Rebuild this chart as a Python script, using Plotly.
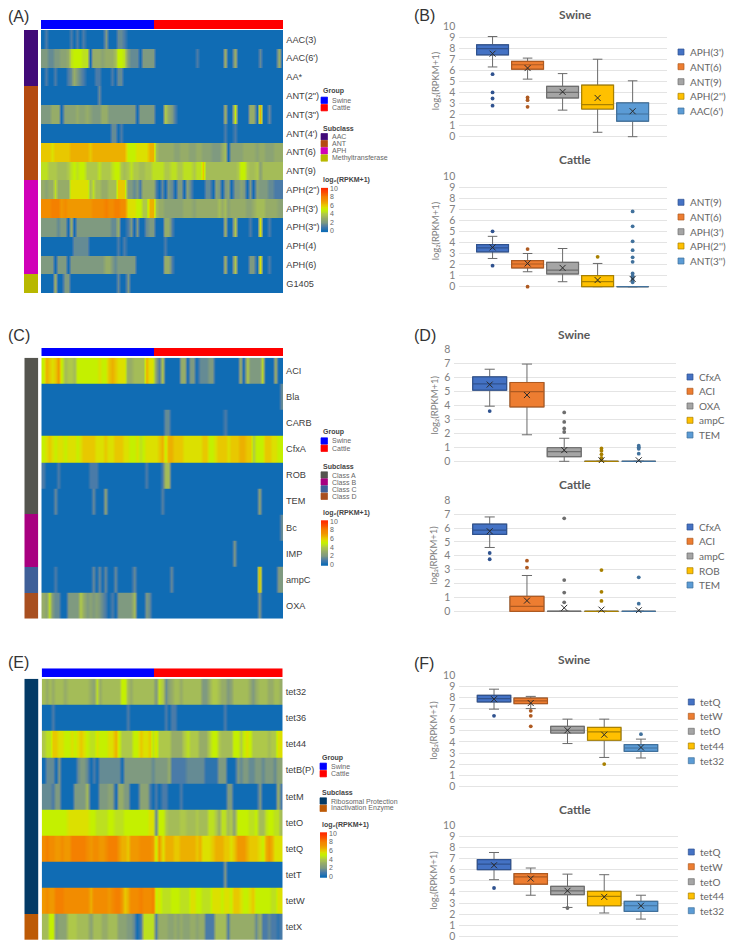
import plotly.graph_objects as go

W, H = 732, 947

# ---------- panel A heatmap ----------
a_labels = ["AAC(3)", "AAC(6')", "AA*", 'ANT(2")', 'ANT(3")', "ANT(4')", "ANT(6)", "ANT(9)", 'APH(2")', "APH(3')", 'APH(3")', "APH(4)", "APH(6)", "G1405"]
a_subclass = [0, 0, 0, 1, 1, 1, 1, 1, 2, 2, 2, 2, 2, 3]
a_rows = [
 [0,1,0,0,0,0,0,0,0,1, 0,1,0,1,0,0,0,0,0,0, 2,0,0,0,1.5,1.5,1,0,0,0, 0,0,0,0,0,0,
  0,0,0,0,0,0,0,0,0,0, 0,0,0,0,0,0,0,0,0,0, 0,0,0,0,0,0,0,0,0,0, 0,0,0,0,0,0,0,0,0,0, 0],
 [2,2,1.5,1.5,2,2,2.5,2.5,3,4.5, 5,5,5,4.5,4.5,0,3,3,3,2.5, 3,3,3,3.5,5,5,4.5,2,1.5,1.5, 1.5,0,2,2,2,2,
  0,0,0,0,0,0,0,0,0,0, 0,0,0,1,0,0,0,0,0,0, 0,0,3,0,0,3,0,0,0,0, 0,0,0,1.5,0,0,0,0,0,3, 0],
 [0,1,0,0,1,0,0,0,1,1.5, 3,2,1.5,1,0,0,0,1,1,0, 0,0,1,0,1.5,1.5,0,0,0,0, 0,0,0,0,0,0,
  0,0,0,0,0,0,0,0,0,0, 0,0,0,0,0,0,0,0,0,0, 0,0,0,0,0,0,0,0,0,0, 0,0,0,0,0,0,0,0,0,0, 0],
 [0,0,0,0,0,0,0,0,0,0, 0,0,0,0,0,0,0,0,1.5,0, 0,0,0,0,0,0,0,0,0,0, 0,0,0,0,0,0,
  0,0,0,0,0,0,0,0,0,0, 0,0,0,0,0,0,0,0,0,0, 0,0,0,0,0,0,0,0,0,0, 0,0,0,0,0,0,0,0,0,0, 0],
 [2,2,2,3,3,3,0,2.5,2.5,2.5, 2.5,3,2.5,2.5,3,2.5,2,2,2,3, 3,2,2,2,2,2,2,2,2,2, 0,2,2,2,2,2,
  0,0,0,4,3,2,1,0,0,0, 0,0,0,0,0,0,0,0,0,0, 0,0,3,0,0,5,0,0,0,0, 3,3,0,6.5,0,0,1.5,0,0,0, 0],
 [0,0,0,0,0,0,0,0,0,0, 0,0,0,0,0,0,0,0,0,0, 0,0,1.5,1.5,0,1,0,0,0,0, 0,0,0,0,0,0,
  0,0,0,0,0,0,0,0,0,0, 0,0,0,0,0,0,0,0,0,0, 0,0,1,0,0,1,0,0,0,0, 0,0,0,0,0,0,0,0,0,0, 0],
 [6,6,6,5.5,6,6,6,6,6,6.5, 6.5,6.5,6.5,6.5,6.5,6,6.5,6.5,6.5,6.5, 6.5,6.5,6.5,6.5,6.5,6.5,6.5,5,5,5, 5.5,5.5,5.5,5.5,6.5,6.5,
  3.5,3,3,3,3,3,2.5,2.5,3,3, 3,2.5,2.5,3,3,2.5,2.5,2.5,2,2, 2,3,3.5,0,2.5,2.5,2.5,2.5,3,3, 3,3,2.5,3,3,2.5,2.5,2.5,3,3, 3],
 [4.5,4.5,4,4,4,3.5,3.5,3.5,4,4.5, 5,4.5,5,5,4,4,4,4,4.5,4, 4,4,4.5,5,5,4,3.5,4,4.5,4, 4,3.5,3.5,4,4,4.5,
  4.5,4.5,4.5,4,4,4.5,4.5,4,4,4.5, 4.5,4.5,4,4.5,4.5,6,3.5,3.5,3.5,3.5, 3.5,3.5,3.5,3.5,3.5,3.5,4,5,5,4, 3.5,3.5,4,2.5,3.5,3.5,3.5,3.5,3.5,3.5, 3.5],
 [3,2.5,3,3,4.5,3,3,3,3,5.5, 5.5,5.5,5.5,5.5,5.5,3.5,4.5,3.5,3.5,3, 3,3.5,3.5,3.5,6,6,6,2,2,1.5, 2,1,3,3,3,3,
  1,0,1.5,0,2,1.5,0,2,2,0, 2.5,1.5,0,0,0,0,1.5,1.5,0,2.5, 2,0,2,2.5,0,2,2,2.5,2,0, 2,0,2.5,2,2,2,1.5,1.5,1,1, 1],
 [7.5,7.5,7.5,8,8,8,7,7.5,7,7, 7,7,7,7,7,7,7.5,7.5,7.5,7.5, 8,7.5,7.5,8,8,7.5,7.5,5.5,5.5,5.5, 5,5,4,4,6.5,6.5,
  3.5,3,3,2.5,2.5,2.5,2.5,2.5,2.5,3, 3,3,2.5,3,3,3,3,3,3,3, 3.5,3,3.5,2.5,3,3,3,3,3,2.5, 2.5,3,3.5,3.5,3.5,3,3,3,3,2.5, 2.5],
 [2,2,2,2,2,1.5,2,2,0,3, 0,2,2,2,2,2,2,2,2,2, 2,2,1.5,1.5,3,0,0,1,2,0, 2,0,0,1.5,2,2,
  0,0,0,3,3,1,0,0,0,0, 0,0,0,0,0,0,0,0,0,0, 0,0,3,0,0,4,0,0,0,0, 1,0,0,5.5,0,0,1,0,0,0, 0],
 [0,0,0,0,0,0,0,0,0,0, 1.5,1.5,1.5,1.5,1.5,0,0,0,0,0, 0,0,0,0,1,0,1,0,0,0, 0,0,0,0,0,0,
  0,0,0,1,0,0,0,0,0,0, 0,0,0,0,0,0,0,0,0,0, 0,0,0,0,0,0,0,0,0,0, 0,0,0,0,0,0,0,0,0,0, 0],
 [2,2,2,2,0,2,2,2,0,2, 2,2,2,2,2,2,2,2,2,2, 3,3,2,1.5,2,2,2,2,2,2, 0,0,0,0,0,0,
  0,0,0,3,3,1,0,0,0,0, 0,0,0,0,0,0,0,0,0,0, 0,0,3,0,0,4,0,0,0,0, 2,2,0,5.5,0,0,1,0,0,0, 0],
 [0,0,0,0,3,0,0,2,2,0, 0,0,0,0,0,0,0,0,0,0, 0,0,0,0,1.5,0,0,2,0,0, 0,0,0,0,0,0,
  0,0,0,0,0,0,0,0,0,0, 0,0,0,0,0,0,0,0,0,0, 0,0,0,0,0,0,0,0,0,0, 0,0,0,0,0,0,0,0,0,0, 0],
]

# ---------- panel C heatmap ----------
c_labels = ["ACI", "Bla", "CARB", "CfxA", "ROB", "TEM", "Bc", "IMP", "ampC", "OXA"]
c_subclass = [0, 0, 0, 0, 0, 0, 1, 1, 2, 3]
c_rows = [
 [5,6.5,6,5.5,6,7,5,3.5,4,4, 3.5,5,5,5,5,5,5,5,5.5,5, 5,6,6.5,6,5.5,5.5,5.5,3,3,3.5, 3.5,3.5,3.5,6.5,5.5,5.5,
  2,1,4,0,0,0,0,0,3,3, 0,2,2,0,1.5,1.5,1.5,2,2,0, 0,0,0,0,0,0,0,3,0,4, 2,2,2,2,4.5,0,0,0,3,0, 0],
 [0,0,0,0,0,0,0,0,0,0, 0,0,0,0,0,0,0,0,0,0, 0,0,0,0,0,0,0,0,0,0, 0,0,0,0,0,0,
  0,0,0,0,0,0,0,0,0,0, 0,0,0,0,0,0,0,0,0,0, 0,0,0,0,0,0,0,0,0,0, 0,0,0,0,0,0,0,0,0,0, 1.5],
 [0,0,0,0,0,0,0,0,0,0, 0,0,0,0,0,0,0,0,0,0, 0,0,0,0,0,0,0,0,0,0, 0,0,0,0,0,0,
  0,0,0,1.5,1.5,0,0,0,0,0, 0,0,0,0,0,0,0,0,0,0, 0,0,1,0,0,0,0,0,0,0, 0,0,0,0,0,0,0,0,0,0, 0],
 [5,5.5,6,5.5,5,5.5,5.5,5,5.5,5.5, 5.5,5,5.5,6,6,6,6,5.5,5.5,5.5, 6,5.5,5.5,6,6,6,5.5,5.5,5,5, 5.5,4.5,5,5.5,5.5,5.5,
  5.5,6,6.5,5,6.5,6.5,6,6,6,5.5, 5.5,5.5,5.5,5.5,5.5,6,6,5,5,5.5, 6,6,6,5.5,6,6,6,6.5,6.5,6, 6,4,5,5,5,6,6,5.5,5.5,5, 5],
 [1,0,0,0,0,1,0,0,0,0, 0,0,0,0,0,1,1,1,0,0, 0,0,0,0,0,0,0,0,0,0, 0,0,0,1,0,0,
  0,0,1,3.5,3.5,0,0,0,0,0, 0,0,0,0,0,0,0,0,0,0, 0,0,0,0,0,0,0,0,0,0, 0,0,0,0,0,0,0,0,0,0, 0],
 [0,0,0,0,1.5,0,0,0,0,0, 0,0,0,0,0,0,1.5,0,0,0, 2.5,0,0,0,0,0,0,0,0,0, 0,0,0,0,0,0,
  0,0,1.2,0,0,0,0,0,0,0, 0,0,0,0,0,0,0,0,0,0, 0,0,0,0,0,0,0,0,0,0, 0,0,0,2.5,0,0,0,0,0,0, 0],
 [0,0,0,0,0,0,0,0,0,0, 0,0,0,0,0,0,0,0,0,0, 0,0,0,0,0,0,0,0,0,0, 0,0,0,0,0,0,
  0,0,0,0,0,0,0,0,0,0, 0,0,0,0,0,0,0,0,0,0, 0,0,0,0,0,0,0,0,0,0, 0,0,0,0,0,0,0,0,0,0, 1.5],
 [0,0,0,0,0,0,0,0,0,0, 0,0,0,0,0,0,0,0,0,0, 0,0,0,0,0,0,0,0,0,0, 0,0,0,0,0,0,
  0,0,0,0,0,0,0,0,0,0, 0,0,0,0,0,0,0,0,0,0, 0,0,0,0,0,2,0,0,0,0, 0,0,0,0,0,0,0,0,0,0, 0],
 [0,0,0,0,1,0,0,0,0,0, 0,0,0,0,0,0,1.5,0,1.5,0, 1.5,0,0,1.5,0,0,0,0,0,1.5, 0,0,0,0,0,0,
  0,0,0,0,0,1.5,0,0,0,0, 0,0,0,0,0,0,0,0,0,0, 0,0,0,0,0,0,0,0,0,0, 0,0,0,6.5,0,0,0,0,0,2, 2],
 [3,2.5,4.5,2,1.5,1.5,0,0,2,2, 2,2,4,3,2,2.5,2,2.5,2,1.5, 1,0,1,0,2,2,2,2,2,3.5, 0,0,0,2,1.5,0,
  0,0,0,0,0,0,0,0,0,0, 0,0,0,0,0,0,0,0,0,0, 0,0,0,0,0,0,0,0,0,0, 0,0,0,2,0,0,0,0,0,0, 0],
]

# ---------- panel E heatmap ----------
e_labels = ["tet32", "tet36", "tet44", "tetB(P)", "tetM", "tetO", "tetQ", "tetT", "tetW", "tetX"]
e_subclass = [0, 0, 0, 0, 0, 0, 0, 0, 0, 1]
e_rows = [
 [3.5,3,3.5,3,3.5,3.5,3.5,3,3.5,3.5, 3.5,3.5,3.5,3.5,3.5,3,2.5,4.5,3,3.5, 3.5,3.5,3.5,3.5,3.5,5,5,3.5,3,3.5, 3.5,3.5,3.5,3.5,3.5,3.5,
  2,4.5,4,1.5,2.5,3,3.5,3.5,3,3.5, 3.5,3.5,3.5,3.5,3.5,2,2,3,4,4, 3.5,3,3,2,2.5,3.5,3.5,3.5,3.5,3.5, 3,2,3,3.5,3.5,3.5,3,3,3.5,3.5, 3],
 [0,0,0,1,0,0,0,0,0,0, 0,0,0,0,0,0,0,0,0,0, 0,0,0,0,0,0,0,1,0,0, 0,0,0,0,0,0,
  0,0,0,1,0,1,1,0,0,0, 0,0,0,0,0,0,0,0,0,0, 0,0,1,0,0,0,0,0,0,0, 0,0,0,0,0,0,0,0,0,0, 0],
 [4,4.5,4.5,6,6,5.5,5.5,5,5,5.5, 5,5.5,6,5.5,5,4.5,4.5,5.5,5,5, 5,5.5,5.5,6.5,5,4,4,4,4,5, 5,6,5.5,5.5,6,4.5,
  5.5,4,4,4,4,3,3,3,3,4, 4.5,4,4,4,3,3,3,4,5,5, 4,3.5,3.5,3.5,3.5,5,5,4,5,5.5, 5,4,4,4,4,4,3.5,4,4,5.5, 5.5],
 [0,1.5,1.5,1.5,0,2,0,0,0,0, 0,1.5,2,2,1.5,0,1,0,1.5,1.5, 1.5,1.5,1.5,1.5,1.5,0,2,2,2,2, 2,2,2,2,2,1.5,
  2,2,2,2,3,1,1,1,1,1, 1.5,1.5,1.5,1.5,1.5,1.5,0.5,0.5,0.5,0.5, 2,2,2,0,0,0,2,1.5,2,2, 1.5,1.5,2,2,1.5,2,2,2,1.5,2.5, 2.5],
 [1.5,1.5,1.5,1,2,2,0,0,0,0, 2,2,2,2,3.5,0,0,0,2,2, 2,2.5,2.5,0,3,3,2,2,0,0, 0,2.5,2.5,2.5,1,0,
  1,0,1,1,0,0,0,0,1,0, 0,0,0,0,0,0,0,0,0,0, 0,0,0,2,2,0,0,0,0,0, 0,0,0,2,0,0,0,0,0,3, 1],
 [5,5,5,5,5,5,5,5,5.5,5.5, 5.5,5.5,5.5,5.5,5.5,5,5,4.5,4.5,4.5, 4.5,5,5,4.5,4.5,4.5,5,5,5,5, 5,5,5,5,5.5,5.5,
  1.5,5,5,4,3.5,3.5,3.5,3.5,4,4, 3.5,3.5,3.5,4,3.5,3.5,3.5,4.5,4.5,4, 3,4.5,4.5,3.5,4,2.5,5,5,5,5, 4.5,4.5,5,3.5,3.5,4.5,5,5,4.5,4.5, 3.5],
 [7.5,8,7.5,7.5,7,7,7.5,7,7,8, 8,8,8,8,7.5,7,7.5,7.5,7,7, 7.5,8,8,8,7,6.5,6.5,6,7,7, 7,7.5,7.5,7.5,7.5,7,
  5,7,5.5,6.5,6.5,6.5,6,6,6.5,6.5, 6.5,6.5,6.5,6,6.5,5.5,5.5,5.5,6,6.5, 6.5,6.5,6,6,5.5,6,7,7,7,6.5, 6,6,6,5.5,5,6.5,7,6.5,5.5,5.5, 5.5],
 [0,0,0,0,0,0,0,0,0,0, 0,0,0,0,0,0,0,0,0,0, 0,0,0,0,0,0,0,0,0,0, 0,0,0,0,0,0,
  0,0,0,0,0,0,0,0,0,0, 0,0,0,0,0,0,0,0,0,0, 0,0,2,0,0,0,0,0,0,0, 0,0,0,0,0,0,0,0,0,0, 0],
 [7,7.5,7,7,8,8,8,7.5,7.5,7.5, 7.5,7.5,7.5,7.5,7.5,6.5,7.5,7.5,7.5,7.5, 7.5,7,7.5,8,8,7,6,6.5,7.5,7.5, 7.5,8,7.5,7.5,7.5,8,
  5,5.5,4.5,4.5,4.5,5,5,5,4.5,4.5, 4.5,5.5,5.5,5,5,4.5,4.5,4.5,5.5,5.5, 5.5,5,5.5,5.5,5,6,6,5.5,5,5, 5.5,6,5,5,5,5,5,4.5,4.5,5.5, 5.5],
 [3.5,3.5,5,5,2,2.5,2.5,2.5,4,4, 4,3.5,3.5,3.5,3.5,2.5,3.5,3.5,3.5,3, 3,3.5,3.5,3.5,2.5,2.5,2.5,2,2,1.5, 0,1,4.5,4.5,4.5,4.5,
  1,3,3,3,2.5,2.5,3,2.5,3,2.5, 2.5,3,3,2.5,3,3,1,1,1,3.5, 3.5,3.5,3.5,1,3,3,3,3,3,3, 3,3,1.5,3,1,1,1.5,1,1,0.5, 1],
]

group_of_column = [0] * 36 + [1] * 41
scale_ticks = [0, 2, 4, 6, 8, 10]

# ---------- box panels: q1, median, q3, lower whisker, upper whisker, mean, outliers ----------
b_s_names = ["APH(3')", "ANT(6)", "ANT(9)", "APH(2'')", "AAC(6')"]
b_s_q1 = [7.4, 6.1, 3.5, 2.5, 1.4]
b_s_med = [7.95, 6.5, 4.0, 2.9, 2.05]
b_s_q3 = [8.3, 6.8, 4.55, 4.65, 3.05]
b_s_lo = [6.3, 5.2, 2.4, 0.4, 0]
b_s_hi = [9.05, 7.1, 5.7, 7.0, 5.05]
b_s_mean = [7.5, 6.2, 4.05, 3.5, 2.3]
b_s_out = [[5.65, 4.0, 3.45, 2.8], [3.55, 3.3, 2.7], [], [], []]

b_c_names = ["ANT(9)", "ANT(6)", "APH(3')", "APH(2'')", "ANT(3'')"]
b_c_q1 = [3.15, 1.7, 1.15, 0, 0]
b_c_med = [3.5, 2.05, 1.5, 0.45, 0]
b_c_q3 = [3.8, 2.35, 2.2, 1.0, 0]
b_c_lo = [2.55, 1.35, 0.45, 0, 0]
b_c_hi = [4.55, 3.0, 3.45, 2.1, 0]
b_c_mean = [3.55, 2.1, 1.7, 0.6, 0.7]
b_c_out = [[5.0, 1.9], [3.4, 0], [], [2.7], [6.8, 5.45, 4.1, 3.3, 2.65, 2.25, 1.2, 0.95, 0.8, 0.6, 0.4]]

d_s_names = ["CfxA", "ACI", "OXA", "ampC", "TEM"]
d_s_q1 = [5.1, 3.9, 0.33, 0, 0]
d_s_med = [5.55, 5.0, 0.7, 0, 0]
d_s_q3 = [6.05, 5.65, 0.97, 0, 0]
d_s_lo = [3.95, 1.9, 0, 0, 0]
d_s_hi = [6.6, 6.97, 1.65, 0, 0]
d_s_mean = [5.5, 4.75, 0.8, 0.07, 0.07]
d_s_out = [[3.6], [], [3.5, 2.82, 2.35, 2.1], [0.92, 0.75, 0.5, 0.25, 0.12], [1.12, 1.0, 0.9, 0.55]]

d_c_names = ["CfxA", "ACI", "ampC", "ROB", "TEM"]
d_c_q1 = [5.55, 0, 0, 0, 0]
d_c_med = [5.85, 0.35, 0, 0, 0]
d_c_q3 = [6.28, 1.08, 0, 0, 0]
d_c_lo = [4.6, 0, 0, 0, 0]
d_c_hi = [6.8, 2.58, 0, 0, 0]
d_c_mean = [5.77, 0.77, 0.25, 0.12, 0.07]
d_c_out = [[4.2, 3.75], [3.65, 3.15], [6.7, 2.25, 1.35, 0.65], [2.97, 1.4, 0.75], [2.45, 0.55]]

f_s_names = ["tetQ", "tetW", "tetO", "tet44", "tet32"]
f_s_q1 = [7.6, 7.45, 4.8, 4.15, 3.15]
f_s_med = [7.9, 7.7, 5.05, 4.9, 3.45]
f_s_q3 = [8.2, 7.95, 5.4, 5.3, 3.75]
f_s_lo = [6.95, 7.0, 3.85, 2.6, 2.55]
f_s_hi = [8.75, 8.1, 6.05, 6.05, 4.25]
f_s_mean = [7.85, 7.5, 5.05, 4.65, 3.5]
f_s_out = [[6.35], [6.8, 6.35, 5.4], [], [2.0], [4.7]]

f_c_names = ["tetQ", "tetW", "tetO", "tet44", "tet32"]
f_c_q1 = [6.0, 4.7, 3.75, 2.75, 2.25]
f_c_med = [6.5, 5.35, 4.1, 3.6, 2.75]
f_c_q3 = [6.9, 5.65, 4.5, 4.05, 3.15]
f_c_lo = [5.1, 3.7, 2.6, 2.1, 1.55]
f_c_hi = [7.55, 6.15, 5.6, 5.55, 3.7]
f_c_mean = [6.4, 5.2, 4.1, 3.55, 2.75]
f_c_out = [[4.35], [], [2.55], [], []]

# ---------- styling ----------
HEAT_SCALE = [[0.0, "#106cb4"], [0.1, "#4a7ba8"], [0.2, "#7f9a80"], [0.3, "#96ac68"], [0.35, "#a4bc58"],
              [0.4, "#aec84a"], [0.45, "#bce020"], [0.5, "#c4f000"], [0.55, "#dce000"], [0.6, "#e8c800"],
              [0.65, "#ecb000"], [0.7, "#f09800"], [0.8, "#f48000"], [0.9, "#fa5000"], [1.0, "#ff2a00"]]
BOX_FILL = ["#4472c4", "#ed7d31", "#a5a5a5", "#ffc000", "#5b9bd5"]
BOX_LINE = ["#2f528f", "#ae5a21", "#6e6e6e", "#a88000", "#41719c"]
WHISKER = "#6a6a6a"
HEAT_FONT = "Liberation Sans"
BOX_FONT = "Lato"
GREY = "#808080"
Y_TITLE = "log\u2082(RPKM+1)"


def X(p):
    return p / W


def Y(p):
    return 1 - p / H


fig = go.Figure()
layout_axes = {}
shapes = []
annots = []
axis_no = [0]


def new_axes(x0, x1, y0, y1, xopts, yopts):
    axis_no[0] += 1
    n = axis_no[0]
    suffix = "" if n == 1 else str(n)
    layout_axes["xaxis" + suffix] = dict(domain=[X(x0), X(x1)], anchor="y" + suffix, **xopts)
    layout_axes["yaxis" + suffix] = dict(domain=[Y(y1), Y(y0)], anchor="x" + suffix, **yopts)
    return "x" + suffix, "y" + suffix


def text(px, py, s, size=7, color="#666666", bold=False, family=HEAT_FONT, xanchor="left", angle=0):
    annots.append(dict(x=X(px), y=Y(py), xref="paper", yref="paper", text=f"<b>{s}</b>" if bold else s,
                       showarrow=False, xanchor=xanchor, yanchor="middle", textangle=angle,
                       font=dict(size=size, color=color, family=family)))


def square(x0, x1, yc, half, fill, line=None):
    shapes.append(dict(type="rect", xref="paper", yref="paper", x0=X(x0), x1=X(x1), y0=Y(yc - half), y1=Y(yc + half),
                       fillcolor=fill, line=dict(color=line or fill, width=0.7)))


HIDE = dict(visible=False, showgrid=False, zeroline=False)


def heat_panel(rows, labels, subclass, sub_colors, sub_names, bar_y, main_y, left_x, main_x, leg):
    # group colour bar on top
    xa, ya = new_axes(main_x[0], main_x[1], bar_y[0], bar_y[1], HIDE, HIDE)
    fig.add_trace(go.Heatmap(z=[group_of_column], xaxis=xa, yaxis=ya, zmin=0, zmax=1, showscale=False,
                             colorscale=[[0, "#0000ff"], [0.5, "#0000ff"], [0.5, "#ff0000"], [1, "#ff0000"]]))
    # subclass colour bar on the left
    xa, ya = new_axes(left_x[0], left_x[1], main_y[0], main_y[1], HIDE, dict(autorange="reversed", **HIDE))
    k = len(sub_colors)
    scale = []
    for i, c in enumerate(sub_colors):
        scale += [[i / k, c], [(i + 1) / k, c]]
    fig.add_trace(go.Heatmap(z=[[s] for s in subclass], xaxis=xa, yaxis=ya, zmin=-0.5, zmax=k - 0.5,
                             showscale=False, colorscale=scale))
    # main matrix: each row is listed twice, close to its upper and lower edge, so that the
    # smoothing softens the columns only and the rows stay sharp
    n = len(group_of_column)
    m = len(labels)
    xa, ya = new_axes(main_x[0], main_x[1], main_y[0], main_y[1], HIDE,
                      dict(side="right", range=[m - 0.5, -0.5], showgrid=False, zeroline=False, showline=False,
                           ticks="", ticklabelstandoff=2, tickmode="array", tickvals=list(range(m)), ticktext=labels,
                           tickfont=dict(size=9.2, color="#404040", family=HEAT_FONT)))
    z, yy = [], []
    for j, r in enumerate(rows):
        z += [r, r]
        yy += [j - 0.495, j + 0.495]
    fig.add_trace(go.Heatmap(z=z, x=list(range(n)), y=yy, xaxis=xa, yaxis=ya, zmin=0, zmax=10, colorscale=HEAT_SCALE,
                             showscale=False, zsmooth="best"))
    # colour scale drawn as a small gradient heatmap with its own axis
    lx = leg["x"]
    levels = [v / 10 for v in range(-3, 103)]
    xa, ya = new_axes(lx, lx + 7, leg["bar"][0], leg["bar"][1], HIDE,
                      dict(side="right", range=[-0.3, 10.2], showgrid=False, zeroline=False, showline=False, ticks="",
                           tickmode="array", tickvals=scale_ticks, ticklabelstandoff=1,
                           tickfont=dict(size=7, color="#666666", family=HEAT_FONT)))
    fig.add_trace(go.Heatmap(z=[[v] for v in levels], y=levels, xaxis=xa, yaxis=ya, zmin=0, zmax=10,
                             colorscale=HEAT_SCALE, showscale=False))
    text(lx, leg["group_y"], "Group", bold=True, color="#444444")
    for yc, name, col in zip(leg["group_rows"], ["Swine", "Cattle"], ["#0000ff", "#ff0000"]):
        square(lx, lx + 6.5, yc, 3.2, col)
        text(lx + 9, yc, name)
    text(lx, leg["sub_y"], "Subclass", bold=True, color="#444444")
    for yc, name, col in zip(leg["sub_rows"], sub_names, sub_colors):
        square(lx, lx + 6.5, yc, 3.2, col)
        text(lx + 9, yc, name)
    text(lx, leg["bar_title"], Y_TITLE, bold=True, color="#444444")


heat_panel(a_rows, a_labels, a_subclass, ["#420a78", "#b44a10", "#d000b8", "#b8b800"],
           ["AAC", "ANT", "APH", "Methyltransferase"], (20, 29), (30, 293), (24, 38), (41, 283.3),
           dict(x=321, bar=(187.7, 232.3), group_y=91.3, group_rows=(100.3, 107.7), sub_y=128.3,
                sub_rows=(136.7, 143.7, 150.8, 158), bar_title=180))
heat_panel(c_rows, c_labels, c_subclass, ["#55554f", "#a80080", "#3f5f98", "#a84f20"],
           ["Class A", "Class B", "Class C", "Class D"], (348, 356.3), (357.7, 618.7), (24.3, 38.3), (41.3, 283),
           dict(x=321, bar=(520.3, 565.7), group_y=432.3, group_rows=(441, 448.3), sub_y=466,
                sub_rows=(475, 482, 489, 496.3), bar_title=513))
heat_panel(e_rows, e_labels, e_subclass, ["#033a66", "#bd5a06"],
           ["Ribosomal Protection", "Inactivation Enzyme"], (668.3, 677), (678.7, 940), (24.3, 38.7), (41.7, 282.7),
           dict(x=320, bar=(832.3, 877.7), group_y=757.7, group_rows=(766.3, 773.7), sub_y=792.7,
                sub_rows=(801, 808.3), bar_title=825.3))


def box_panel(title, names, q1, med, q3, lo, hi, mean, out, top, zero, ymax, x_px, x_range, title_xy, ylab_x,
              leg_x, leg_rows):
    pad = 0.015 * ymax
    scale = (zero - top) / ymax
    xa, ya = new_axes(x_px[0], x_px[1], top, zero + pad * scale,
                      dict(range=x_range, visible=False, showgrid=False, zeroline=False),
                      dict(range=[-pad, ymax], dtick=1, tick0=0, showgrid=True, gridcolor="#e4e4e4", gridwidth=1,
                           zeroline=False, showline=False, ticks="", ticklabelstandoff=3,
                           tickfont=dict(size=10.5, color=GREY, family=BOX_FONT)))
    for i in range(len(names)):
        fig.add_trace(go.Box(x=[i], q1=[q1[i]], median=[med[i]], q3=[q3[i]], lowerfence=[lo[i]], upperfence=[hi[i]],
                             width=0.91, whiskerwidth=0.3, boxpoints=False, xaxis=xa, yaxis=ya, name=names[i],
                             line=dict(color=WHISKER, width=1), fillcolor=BOX_FILL[i], showlegend=False))
        fig.add_trace(go.Box(x=[i], q1=[q1[i]], median=[med[i]], q3=[q3[i]], lowerfence=[q1[i]], upperfence=[q3[i]],
                             width=0.91, whiskerwidth=0, boxpoints=False, xaxis=xa, yaxis=ya, name=names[i],
                             line=dict(color=BOX_LINE[i], width=1.2), fillcolor=BOX_FILL[i], showlegend=False))
        if out[i]:
            fig.add_trace(go.Scatter(x=[i] * len(out[i]), y=out[i], mode="markers", xaxis=xa, yaxis=ya, showlegend=False,
                                     cliponaxis=False, marker=dict(size=3.8, color=BOX_LINE[i], line=dict(width=0))))
        fig.add_trace(go.Scatter(x=[i], y=[mean[i]], mode="markers", xaxis=xa, yaxis=ya, showlegend=False,
                                 marker=dict(symbol="x-thin", size=6, line=dict(width=1, color="#2a2a2a"))))
    text(title_xy[0], title_xy[1], title, size=12, color="#595959", bold=True, family=BOX_FONT, xanchor="center")
    text(ylab_x, (top + zero) / 2, Y_TITLE, size=9.5, color=GREY, family=BOX_FONT, xanchor="center", angle=-90)
    for i, (yc, name) in enumerate(zip(leg_rows, names)):
        square(leg_x, leg_x + 6, yc, 3, BOX_FILL[i], BOX_LINE[i])
        text(leg_x + 9.5, yc, name, size=10, color="#666666", family=BOX_FONT)


bx = (459.3, 667.3)
brange = [-0.95, 4.99]
box_panel("Swine", b_s_names, b_s_q1, b_s_med, b_s_q3, b_s_lo, b_s_hi, b_s_mean, b_s_out, 26, 136.7, 10, bx, brange,
          (575, 14.3), 435, 678, (52, 66.7, 81.7, 96.3, 111))
box_panel("Cattle", b_c_names, b_c_q1, b_c_med, b_c_q3, b_c_lo, b_c_hi, b_c_mean, b_c_out, 176, 286.7, 10, bx, brange,
          (575, 160), 435, 678, (202.3, 217, 231.7, 246, 261))
dx = (454.3, 676)
drange = [-0.95, 5.0]
box_panel("Swine", d_s_names, d_s_q1, d_s_med, d_s_q3, d_s_lo, d_s_hi, d_s_mean, d_s_out, 349.7, 461.3, 8, dx, drange,
          (574.7, 334.3), 434, 687, (377, 391.3, 406, 420.3, 435))
box_panel("Cattle", d_c_names, d_c_q1, d_c_med, d_c_q3, d_c_lo, d_c_hi, d_c_mean, d_c_out, 500.3, 611.3, 8, dx, drange,
          (574.7, 484.7), 434, 687, (527, 541.3, 556, 570.7, 585))
fx = (459.3, 677.7)
frange = [-0.945, 5.0]
box_panel("Swine", f_s_names, f_s_q1, f_s_med, f_s_q3, f_s_lo, f_s_hi, f_s_mean, f_s_out, 675.3, 786.3, 10, fx, frange,
          (574.7, 659.3), 434, 688.3, (702, 716.3, 731.3, 746, 760.7))
box_panel("Cattle", f_c_names, f_c_q1, f_c_med, f_c_q3, f_c_lo, f_c_hi, f_c_mean, f_c_out, 825.3, 936.3, 10, fx, frange,
          (574.7, 809.3), 434, 688.3, (852, 866.7, 881.7, 896, 910.7))

for lab, px, py in [("(A)", 6, 17), ("(B)", 412, 16), ("(C)", 6, 335), ("(D)", 412, 335), ("(E)", 6, 662), ("(F)", 412, 663)]:
    text(px, py, lab, size=16, color="#333333")

fig.update_layout(width=W, height=H, margin=dict(l=0, r=0, t=0, b=0, autoexpand=False), autosize=False,
                  paper_bgcolor="white", plot_bgcolor="white", showlegend=False, boxmode="overlay",
                  shapes=shapes, annotations=annots, **layout_axes)
fig.write_html("out.html", config={"displayModeBar": False},
               post_script="document.body.style.margin='0';document.body.style.overflow='hidden';")
